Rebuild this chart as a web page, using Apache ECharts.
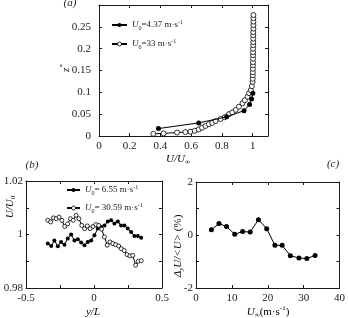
<!DOCTYPE html>
<html>
<head>
<meta charset="utf-8">
<script src="https://cdn.jsdelivr.net/npm/echarts@6/dist/echarts.min.js"></script>
<style>
html, body { margin: 0; padding: 0; background: #fff; }
#chart { width: 348px; height: 318px; }
</style>
</head>
<body>
<div id="chart"></div>
<script>
// (a) velocity profiles, U/Uinf against z*
var profLowU = [0.387, 0.649, 0.831, 0.944, 0.980, 0.993, 1.001];
var profLowZ = [0.017, 0.030, 0.044, 0.058, 0.072, 0.085, 0.098];
var profHighU = [0.354, 0.420, 0.508, 0.562, 0.595, 0.623, 0.649, 0.671, 0.693, 0.715, 0.737, 0.759,
  0.792, 0.818, 0.846, 0.868, 0.890, 0.911, 0.934, 0.949, 0.967, 0.977, 0.988, 0.995, 1.000,
  1.000, 1.001, 1.001, 1.002, 1.002, 1.002, 1.003, 1.003, 1.003, 1.003, 1.004, 1.004, 1.004,
  1.004, 1.004, 1.005, 1.005, 1.005, 1.005, 1.005];
var profHighZ = [0.005, 0.006, 0.008, 0.009, 0.010, 0.012, 0.015, 0.019, 0.023, 0.027, 0.030, 0.034,
  0.039, 0.043, 0.050, 0.054, 0.060, 0.067, 0.075, 0.082, 0.090, 0.098, 0.105, 0.114, 0.124,
  0.131, 0.139, 0.146, 0.154, 0.162, 0.169, 0.177, 0.185, 0.192, 0.200, 0.208, 0.215, 0.223,
  0.231, 0.238, 0.246, 0.254, 0.262, 0.270, 0.277];

// (b) lateral uniformity, U/U0 against y/L
var latLowX = [-0.340, -0.315, -0.291, -0.266, -0.242, -0.217, -0.193, -0.168, -0.144, -0.119,
  -0.095, -0.070, -0.046, -0.021, 0.003, 0.028, 0.052, 0.077, 0.101, 0.126, 0.150, 0.175,
  0.199, 0.224, 0.248, 0.273, 0.297, 0.322, 0.347];
var latLowU = [0.9966, 0.9957, 0.9978, 0.9956, 0.9972, 0.9962, 0.9985, 1.0000, 0.9978, 0.9982,
  0.9970, 0.9960, 0.9972, 0.9978, 0.9997, 1.0022, 1.0028, 1.0034, 1.0049, 1.0053, 1.0041, 1.0049,
  1.0034, 1.0034, 1.0022, 1.0009, 0.9994, 0.9994, 0.9988];
var latHighX = [-0.340, -0.319, -0.298, -0.278, -0.257, -0.236, -0.215, -0.194, -0.173, -0.153,
  -0.132, -0.111, -0.090, -0.069, -0.049, -0.028, -0.007, 0.014, 0.035, 0.056, 0.076, 0.097,
  0.118, 0.139, 0.160, 0.181, 0.201, 0.222, 0.243, 0.264, 0.285, 0.306, 0.326, 0.347];
var latHighU = [1.0053, 1.0047, 1.0062, 1.0059, 1.0065, 1.0053, 1.0030, 1.0040, 1.0059, 1.0053,
  1.0072, 1.0059, 1.0034, 1.0022, 1.0032, 1.0022, 1.0030, 1.0037, 1.0034, 1.0020, 0.9991, 0.9960,
  0.9972, 0.9966, 0.9962, 0.9957, 0.9947, 0.9940, 0.9925, 0.9920, 0.9922, 0.9885, 0.9900, 0.9902];

// (c) deviation against free stream speed
var devSpeed = [4.3, 6.4, 8.5, 10.8, 13.0, 15.1, 17.4, 19.7, 22.0, 24.0, 26.3, 28.7, 30.9, 33.2];
var devPct = [0.20, 0.43, 0.32, 0.03, 0.13, 0.11, 0.58, 0.24, -0.39, -0.39, -0.78, -0.87, -0.89, -0.77];

var legendText = {
  a1: '{i|U}{sub|0}=4.37 m·s{sup|-1}',
  a2: '{i|U}{sub|0}=33 m·s{sup|-1}',
  b1: '{i|U}{sub|0}= 6.55 m·s{sup|-1}',
  b2: '{i|U}{sub|0}= 30.59 m·s{sup|-1}'
};

function pairs(xs, ys) {
  return xs.map(function (x, i) { return [x, ys[i]]; });
}

var FONT = 'Liberation Serif';
var INK = '#1a1a1a';

var richSmall = {
  i: { fontStyle: 'italic', fontFamily: FONT, fontSize: 9, lineHeight: 12, color: INK },
  sub: { fontFamily: FONT, fontSize: 6, lineHeight: 7, verticalAlign: 'bottom', color: INK },
  sup: { fontFamily: FONT, fontSize: 6, lineHeight: 7, verticalAlign: 'top', color: INK }
};
var richName = {
  i: { fontStyle: 'italic', fontFamily: FONT, fontSize: 11, lineHeight: 14, color: INK },
  n: { fontFamily: FONT, fontSize: 11, lineHeight: 14, color: INK },
  sub: { fontStyle: 'italic', fontFamily: FONT, fontSize: 7, lineHeight: 8, verticalAlign: 'bottom', color: INK },
  sup: { fontFamily: FONT, fontSize: 7, lineHeight: 8, verticalAlign: 'top', color: INK }
};

function pick(list) {
  return function (v) {
    for (var k = 0; k < list.length; k++) {
      if (Math.abs(v - list[k]) < 1e-6) return String(list[k]);
    }
    return '';
  };
}

function mainX(grid, min, max, step, fmt) {
  return {
    gridIndex: grid, type: 'value', min: min, max: max, interval: step, position: 'bottom',
    axisLine: { show: true, onZero: false, lineStyle: { color: INK, width: 1 } },
    axisTick: { show: true, inside: true, length: 3, lineStyle: { color: INK } },
    axisLabel: { fontFamily: FONT, fontSize: 11, color: INK, margin: 5, showMaxLabel: fmt ? true : false, formatter: fmt },
    splitLine: { show: false }
  };
}
function mainY(grid, min, max, step, fmt, margin) {
  return {
    gridIndex: grid, type: 'value', min: min, max: max, interval: step, position: 'left',
    axisLine: { show: true, onZero: false, lineStyle: { color: INK, width: 1 } },
    axisTick: { show: true, inside: true, length: 3, lineStyle: { color: INK } },
    axisLabel: { fontFamily: FONT, fontSize: 11, color: INK, margin: margin, showMaxLabel: fmt ? true : false, formatter: fmt },
    splitLine: { show: false }
  };
}
function mirror(grid, min, max, step, pos) {
  return {
    gridIndex: grid, type: 'value', min: min, max: max, interval: step, position: pos,
    axisLine: { show: true, onZero: false, lineStyle: { color: INK, width: 1 } },
    axisTick: { show: true, inside: true, length: 3, lineStyle: { color: INK } },
    axisLabel: { show: false },
    splitLine: { show: false }
  };
}

var hollow = { color: '#fff', borderColor: '#000', borderWidth: 0.8 };

var chart = echarts.init(document.getElementById('chart'), null, { renderer: 'canvas' });

chart.setOption({
  animation: false,
  backgroundColor: '#fff',
  textStyle: { fontFamily: FONT },
  grid: [
    { left: 99, top: 5, width: 169, height: 131 },
    { left: 26, top: 181, width: 136, height: 107 },
    { left: 196, top: 182, width: 146, height: 106 }
  ],
  xAxis: [
    mainX(0, 0, 1.1, 0.2, null),
    mirror(0, 0, 1.1, 0.2, 'top'),
    mainX(1, -0.5, 0.5, 0.25, pick([-0.5, 0, 0.5])),
    mirror(1, -0.5, 0.5, 0.25, 'top'),
    mainX(2, 0, 40, 10, pick([0, 10, 20, 30, 40])),
    mirror(2, 0, 40, 10, 'top')
  ],
  yAxis: [
    mainY(0, 0, 0.3, 0.05, null, 8),
    mirror(0, 0, 0.3, 0.05, 'right'),
    mainY(1, 0.98, 1.02, 0.01, pick([0.98, 1, 1.02]), 3),
    mirror(1, 0.98, 1.02, 0.01, 'right'),
    mainY(2, -2, 2, 1, pick([-2, 0, 2]), 3),
    mirror(2, -2, 2, 1, 'right')
  ],
  legend: [
    {
      data: ['a1', 'a2'], left: 111, top: 19, padding: 0, orient: 'vertical',
      itemWidth: 15, itemHeight: 5, itemGap: 7, itemStyle: { borderWidth: 0.8 },
      formatter: function (n) { return legendText[n]; },
      textStyle: { fontFamily: FONT, fontSize: 9, lineHeight: 12, color: INK, rich: richSmall }
    },
    {
      data: ['b1', 'b2'], left: 66, top: 184, padding: 0, orient: 'vertical',
      itemWidth: 13, itemHeight: 5, itemGap: 6, itemStyle: { borderWidth: 0.8 },
      formatter: function (n) { return legendText[n]; },
      textStyle: { fontFamily: FONT, fontSize: 9, lineHeight: 12, color: INK, rich: richSmall }
    }
  ],
  series: [
    {
      name: 'a1', type: 'line', xAxisIndex: 0, yAxisIndex: 0,
      data: pairs(profLowU, profLowZ),
      symbol: 'circle', symbolSize: 5,
      itemStyle: { color: '#000' }, lineStyle: { color: '#000', width: 1 }, z: 3
    },
    {
      name: 'a2', type: 'line', xAxisIndex: 0, yAxisIndex: 0,
      data: pairs(profHighU, profHighZ),
      symbol: 'circle', symbolSize: 5,
      itemStyle: hollow, lineStyle: { color: '#000', width: 1 }, z: 2
    },
    {
      name: 'b1', type: 'line', xAxisIndex: 2, yAxisIndex: 2,
      data: pairs(latLowX, latLowU),
      symbol: 'circle', symbolSize: 4,
      itemStyle: { color: '#000' }, lineStyle: { color: '#000', width: 1 }
    },
    {
      name: 'b2', type: 'line', xAxisIndex: 2, yAxisIndex: 2,
      data: pairs(latHighX, latHighU),
      symbol: 'circle', symbolSize: 4,
      itemStyle: hollow, lineStyle: { color: '#000', width: 1 }
    },
    {
      name: 'c', type: 'line', xAxisIndex: 4, yAxisIndex: 4,
      data: pairs(devSpeed, devPct),
      symbol: 'circle', symbolSize: 5,
      itemStyle: { color: '#000' }, lineStyle: { color: '#000', width: 1 }
    }
  ],
  graphic: [
    { type: 'text', x: 70, y: 3, style: { text: '(a)', font: 'italic 11px "Liberation Serif"', fill: INK, align: 'center', verticalAlign: 'middle' } },
    { type: 'text', x: 32, y: 165, style: { text: '(b)', font: 'italic 11px "Liberation Serif"', fill: INK, align: 'center', verticalAlign: 'middle' } },
    { type: 'text', x: 333, y: 164, style: { text: '(c)', font: 'italic 11px "Liberation Serif"', fill: INK, align: 'center', verticalAlign: 'middle' } },
    { type: 'text', x: 178, y: 159, style: { text: '{i|U/U}{sub|∞}', rich: richName, align: 'center', verticalAlign: 'middle' } },
    { type: 'text', x: 66, y: 68, rotation: Math.PI / 2, style: { text: '{i|z}{sup|*}', rich: richName, align: 'center', verticalAlign: 'middle' } },
    { type: 'text', x: 10, y: 207, rotation: Math.PI / 2, style: { text: '{i|U/U}{sub|0}', rich: richName, align: 'center', verticalAlign: 'middle' } },
    { type: 'text', x: 93, y: 312, style: { text: '{i|y/L}', rich: richName, align: 'center', verticalAlign: 'middle' } },
    { type: 'text', x: 178, y: 246, rotation: Math.PI / 2, style: { text: '{i|Δ}{sub|y}{i|U/<U>}{n| (%)}', rich: richName, align: 'center', verticalAlign: 'middle' } },
    { type: 'text', x: 268, y: 312, style: { text: '{i|U}{sub|∞}{n|(m·s}{sup|-1}{n|)}', rich: richName, align: 'center', verticalAlign: 'middle' } }
  ]
});
</script>
</body>
</html>
